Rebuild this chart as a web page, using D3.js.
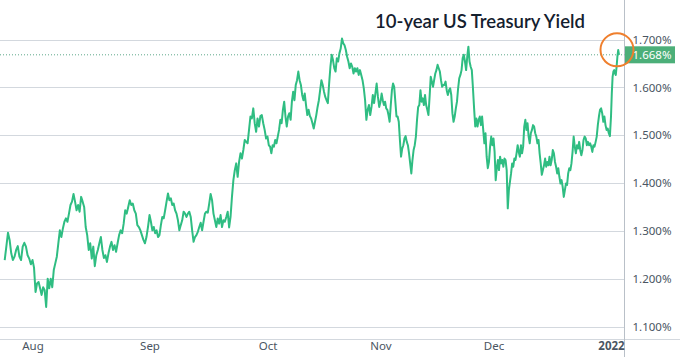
<!DOCTYPE html>
<html><head><meta charset="utf-8">
<script src="https://cdn.jsdelivr.net/npm/d3@7"></script>
<style>
html,body{margin:0;padding:0;background:#fff;}
svg{display:block;}
</style></head>
<body>
<svg id="chart" width="680" height="357"></svg>
<script>
// ---- data (10-year US Treasury yield, %) ----
const title = "10-year US Treasury Yield";
const monthLabels = ["Aug", "Sep", "Oct", "Nov", "Dec", "2022"];
const yTicks = [1.1, 1.2, 1.3, 1.4, 1.5, 1.6, 1.7];
const lastValue = 1.668;

const julVals = [1.239,1.267,1.296,1.281,1.253,1.239,1.246,1.260,1.268,1.246,1.239,1.267,1.275,1.267,1.249,1.242,1.230];
const augVals = [1.239,1.223,1.172,1.190,1.193,1.180,1.166,1.182,1.176,1.141,1.200,1.180,1.200,1.182,1.218,1.232,1.246,1.274,1.301,1.287,1.305,1.319,1.326,1.319,1.336,1.354,1.361,1.377,1.361,1.343,1.354,1.340,1.371,1.361,1.350,1.308,1.291,1.260,1.274,1.242,1.267,1.226,1.249,1.260,1.274,
 1.287,1.260,1.243,1.249,1.235,1.253,1.267,1.277,1.260,1.270,1.256,1.274,1.291,1.301,1.295,1.315,1.343,1.336,1.350,1.364,1.354,1.357,1.343,1.336,1.312,1.308,1.301,1.291,1.281,1.274,1.287,1.308];
const sepVals = [1.333,1.319,1.301,1.308,1.295,1.301,1.287,1.291,1.312,1.329,1.326,1.343,1.361,1.378,1.364,1.368,1.354,1.357,1.343,1.336,1.322,1.301,1.312,1.322,1.340,1.336,1.329,1.336,1.340,1.329,1.301,1.277,
 1.287,1.291,1.298,1.308,1.317,1.301,1.319,1.336,1.340,1.338,1.357,1.377,1.364,1.336,1.322,1.308,1.326,1.315,1.333,1.308,1.322,1.319,1.329,1.340,1.307,1.329,1.371,1.406,1.427,1.441,1.413,1.444,1.462,1.451,1.469,1.490,1.486,1.483,1.511,1.539,1.535,1.556,1.525,1.507,1.535,1.518,1.540,1.542,1.525,1.511,1.493];
const octVals = [1.497,1.479,1.476,1.462,1.479,1.476,1.490,1.483,1.497,1.511,1.532,1.525,1.553,1.570,1.539,1.518,1.539,1.546,1.532,1.570,1.591,1.573,1.605,1.615,
 1.633,1.615,1.605,1.584,1.573,1.587,1.563,1.542,1.553,1.540,1.535,1.525,1.514,1.528,1.542,1.559,1.573,1.594,1.615,1.605,1.591,1.580,1.573,1.567,1.608,1.643,1.668,1.657,1.640,1.633,1.661,1.654,1.671,1.681,1.702,1.692,1.688,1.678,1.664,1.654,1.640,1.650,1.643,1.629,1.640,1.633,1.640,1.626,1.636,1.626,1.615,1.598,1.573,1.532,1.553,1.563,1.542,1.559,1.584,1.567,1.587,1.608,1.580,1.559];
const novVals = [1.570,1.587,1.573,1.563,1.570,1.556,1.553,1.542,1.528,1.563,1.594,1.608,1.601,1.570,1.539,
 1.539,1.528,1.490,1.455,1.472,1.479,1.493,1.498,1.486,1.479,1.462,1.441,1.420,1.448,1.469,1.479,1.497,1.532,1.559,1.563,1.594,1.570,1.577,1.563,1.584,1.563,1.553,1.542,1.580,1.622,1.612,1.601,1.615,1.629,1.636,1.647,1.640,1.633,1.615,1.601,1.605,1.605,1.612,1.594,1.584,1.594,1.598,1.584,1.546,1.528,1.539,1.556,1.570,1.598,1.619,1.626,1.636,1.661,1.668,1.654,1.636,1.664,1.685,1.654,1.643,1.636,1.598,1.556,1.518,1.535,1.518,1.532,1.539,1.521,1.539,1.511,1.483,1.504,1.455,1.431,1.444,1.476,1.497,1.479];
const decVals = [1.493,1.465,1.406,1.431,1.448,1.427,1.455,1.441,1.448,1.434,1.451,
 1.448,1.427,1.347,1.385,1.403,1.420,1.441,1.434,1.451,1.448,1.462,1.479,1.465,1.455,1.479,1.462,1.476,1.518,1.532,1.511,1.525,1.497,1.483,1.504,1.511,1.521,1.518,1.504,1.497,1.483,1.490,1.462,1.441,1.417,1.427,1.437,1.451,1.434,1.444,1.437,1.455,1.437,1.448,1.469,1.462,1.444,1.434,1.420,1.431,1.413,1.399,1.406,1.392,1.371,1.385,1.399,1.396,1.420,1.431,1.427,1.441,1.465,1.497,1.476,1.462,1.479,1.472,1.486,1.469,1.458,1.469,1.490,1.497,1.493,1.479,1.486,1.479,1.483,1.476,1.465,1.479,1.476,1.486,1.497,1.521,1.539,1.553,1.556,1.546,1.528,1.539,1.521,1.511,1.514,1.504,1.498];
const janVals = [1.539,1.587,1.622,1.633,1.636,1.629,1.626,1.643,1.664,1.678,1.668];

// ---- build series ----
const monthSeries = [julVals, augVals, sepVals, octVals, novVals, decVals, janVals];
const values = monthSeries.flat();
const starts = [];
let acc = 0;
monthSeries.forEach(s => { starts.push(acc); acc += s.length; });
const monthStartIdx = starts.slice(1); // Aug..Jan
const N = values.length;

// ---- layout ----
const W = 680, H = 357;
const axisX = 624.5;
const svg = d3.select("#chart");

// x: piecewise linear over sample index, anchored on month boundaries (trading-time axis)
const x = d3.scaleLinear()
  .domain([0, ...monthStartIdx, N - 1])
  .range([4.7, 32.5, 149.5, 267.5, 380.5, 493.5, 611, 619]);
const y = d3.scaleLinear().domain([1.1, 1.7]).range([326.5, 39.5]);

// gridlines
svg.append("g").selectAll("line").data(yTicks).join("line")
  .attr("x1", 0).attr("x2", axisX)
  .attr("y1", d => Math.round(y(d)) + 0.5).attr("y2", d => Math.round(y(d)) + 0.5)
  .attr("stroke", "#d3d8de").attr("stroke-width", 1);

// bottom separator of time axis
svg.append("line").attr("x1", 0).attr("x2", W).attr("y1", 339.5).attr("y2", 339.5)
  .attr("stroke", "#d3d8de");

// right axis line
svg.append("line").attr("x1", axisX).attr("x2", axisX).attr("y1", 0).attr("y2", H)
  .attr("stroke", "#b9c0c8").attr("stroke-width", 1);

// y axis labels
const yAxis = d3.axisRight(y).tickValues(yTicks).tickSize(0).tickPadding(8)
  .tickFormat(d => d.toFixed(3) + "%");
const gy = svg.append("g").attr("transform", `translate(${axisX},0)`).call(yAxis);
gy.select(".domain").remove();
gy.selectAll("text").attr("fill", "#4a5562").style("font-family", "'Noto Sans', sans-serif").style("font-size", "11.5px");

// x axis labels
const xAxis = d3.axisBottom(x).tickValues(monthStartIdx).tickSize(0).tickPadding(0)
  .tickFormat((d, i) => monthLabels[i]);
const gx = svg.append("g").attr("transform", "translate(0,337)").call(xAxis);
gx.select(".domain").remove();
gx.selectAll("text").attr("dy", "1.1em").attr("fill", "#4a5562")
  .style("font-family", "'Noto Sans', sans-serif").style("font-size", "11.5px")
  .style("font-weight", (d, i) => i === monthLabels.length - 1 ? "700" : "400");

// last value dotted line
svg.append("line").attr("x1", 0).attr("x2", axisX)
  .attr("y1", y(lastValue)).attr("y2", y(lastValue))
  .attr("stroke", "#5fa88a").attr("stroke-width", 1).attr("stroke-dasharray", "1,2");

// series line
const line = d3.line().x((d, i) => x(i)).y(d => y(d));
svg.append("path").datum(values).attr("d", line)
  .attr("fill", "none").attr("stroke", "#2fbd82").attr("stroke-width", 2)
  .attr("stroke-linejoin", "round");

// last value label
const ly = y(lastValue);
svg.append("rect").attr("x", axisX + 0.5).attr("y", ly - 8.5).attr("width", 50).attr("height", 17)
  .attr("fill", "#4caf79");
svg.append("text").attr("x", axisX + 8).attr("y", ly + 4)
  .attr("fill", "#fff").style("font-family", "'Noto Sans', sans-serif").style("font-size", "11.5px")
  .text(lastValue.toFixed(3) + "%");

// highlight circle
svg.append("circle").attr("cx", x(N - 1) - 2).attr("cy", y(lastValue) - 5).attr("r", 16.5)
  .attr("fill", "none").attr("stroke", "#ef7f2d").attr("stroke-width", 2);

// title
svg.append("text").attr("x", 480).attr("y", 28).attr("text-anchor", "middle")
  .attr("fill", "#14202e").style("font-family", "Lato, sans-serif").style("font-weight", "600")
  .style("font-size", "18.5px").text(title);
</script>
</body></html>
